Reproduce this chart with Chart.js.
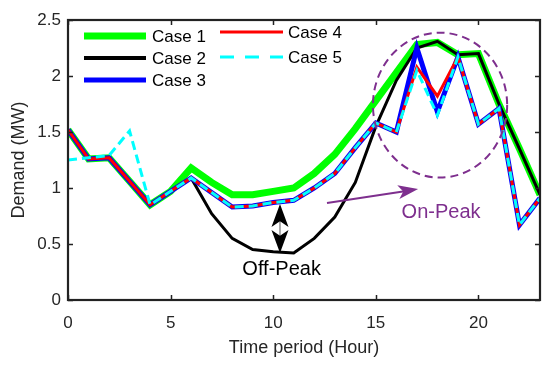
<!DOCTYPE html>
<html><head><meta charset="utf-8">
<script src="https://cdn.jsdelivr.net/npm/chart.js@4.4.1/dist/chart.umd.min.js"></script>
<style>html,body{margin:0;padding:0;background:#fff}</style>
</head><body>
<canvas id="c" width="550" height="365"></canvas>
<script>
// ---------- DATA ----------
const hours = [0,1,2,3,4,5,6,7,8,9,10,11,12,13,14,15,16,17,18,19,20,21,22,23];
const case1 = [1.52,1.26,1.27,1.06,0.85,0.97,1.18,1.05,0.94,0.94,0.97,1.00,1.13,1.30,1.53,1.78,2.03,2.28,2.30,2.19,2.20,1.75,1.35,0.94];
const case2 = [1.52,1.26,1.27,1.06,0.85,0.97,1.09,0.77,0.55,0.45,0.43,0.42,0.55,0.74,1.05,1.55,1.96,2.25,2.31,2.19,2.20,1.75,1.35,0.94];
const case3 = [1.52,1.26,1.27,1.06,0.85,0.97,1.09,0.96,0.83,0.84,0.87,0.89,1.00,1.13,1.36,1.58,1.50,2.25,1.68,2.17,1.57,1.71,0.67,0.91];
const case4 = [1.52,1.26,1.27,1.06,0.85,0.97,1.09,0.96,0.83,0.84,0.87,0.89,1.00,1.13,1.36,1.58,1.50,2.08,1.82,2.17,1.57,1.71,0.67,0.91];
const case5 = [1.25,1.27,1.29,1.51,0.85,0.97,1.09,0.96,0.83,0.84,0.87,0.89,1.00,1.13,1.36,1.58,1.50,2.05,1.65,2.17,1.57,1.71,0.67,0.91];
const seriesNames = ['Case 1','Case 2','Case 3','Case 4','Case 5'];
const xTicks = [0,5,10,15,20];
const yTicks = [0,0.5,1,1.5,2,2.5];
const xTitle = 'Time period (Hour)';
const yTitle = 'Demand (MW)';
// annotations (data units)
const peakEllipse = {cx:18.13, cy:1.74, rx:3.27, ry:0.647};
const onPeakArrow = {x1:12.62, y1:0.866, x2:17.06, y2:0.99};
const onPeakLabel = {text:'On-Peak', x:18.18, y:0.78};
const offPeakArrow = {x:10.33, y1:0.857, y2:0.42};
const offPeakLabel = {text:'Off-Peak', x:10.41, y:0.27};

// ---------- STYLE ----------
const FONT = '"Liberation Sans", Arial, Helvetica, sans-serif';
const PURPLE = '#7E2F8E';
const styles = [
  {color:'#00FF00', width:7, dash:[]},
  {color:'#000000', width:3, dash:[]},
  {color:'#0000FF', width:5, dash:[]},
  {color:'#FF0000', width:3, dash:[]},
  {color:'#00FFFF', width:3, dash:[9,5]}
];
const allSeries = [case1, case2, case3, case4, case5];
const datasets = allSeries.map((vals, i) => ({
  label: seriesNames[i],
  data: hours.map((h, k) => ({x: h, y: vals[k]})),
  borderColor: styles[i].color,
  borderWidth: styles[i].width,
  borderDash: styles[i].dash,
  pointRadius: 0,
  tension: 0,
  fill: false,
  order: 5 - i
}));

function arrowHead(ctx, x1, y1, x2, y2, len, wid, color) {
  const a = Math.atan2(y2 - y1, x2 - x1);
  ctx.save();
  ctx.translate(x2, y2); ctx.rotate(a);
  ctx.fillStyle = color;
  ctx.beginPath();
  ctx.moveTo(0, 0);
  ctx.lineTo(-len, -wid/2);
  ctx.lineTo(-len*0.75, 0);
  ctx.lineTo(-len, wid/2);
  ctx.closePath();
  ctx.fill();
  ctx.restore();
}

const annotations = {
  id: 'annotations',
  afterDatasetsDraw(chart) {
    const {ctx, scales:{x, y}} = chart;
    ctx.save();
    // ellipse
    const ex = x.getPixelForValue(peakEllipse.cx), ey = y.getPixelForValue(peakEllipse.cy);
    const erx = x.getPixelForValue(peakEllipse.cx + peakEllipse.rx) - ex;
    const ery = ey - y.getPixelForValue(peakEllipse.cy + peakEllipse.ry);
    ctx.strokeStyle = PURPLE; ctx.lineWidth = 2; ctx.setLineDash([8,5]);
    ctx.beginPath(); ctx.ellipse(ex, ey, erx, ery, 0, 0, Math.PI*2); ctx.stroke();
    ctx.setLineDash([]);
    // on-peak arrow
    const ax1 = x.getPixelForValue(onPeakArrow.x1), ay1 = y.getPixelForValue(onPeakArrow.y1);
    const ax2 = x.getPixelForValue(onPeakArrow.x2), ay2 = y.getPixelForValue(onPeakArrow.y2);
    ctx.strokeStyle = PURPLE; ctx.lineWidth = 2;
    ctx.beginPath(); ctx.moveTo(ax1, ay1);
    const ang = Math.atan2(ay2-ay1, ax2-ax1);
    ctx.lineTo(ax2 - 12*Math.cos(ang), ay2 - 12*Math.sin(ang)); ctx.stroke();
    arrowHead(ctx, ax1, ay1, ax2, ay2, 20, 14, PURPLE);
    ctx.font = '20px ' + FONT; ctx.fillStyle = PURPLE;
    ctx.textAlign = 'center'; ctx.textBaseline = 'middle';
    ctx.fillText(onPeakLabel.text, x.getPixelForValue(onPeakLabel.x), y.getPixelForValue(onPeakLabel.y));
    // off-peak double arrow
    const bx = x.getPixelForValue(offPeakArrow.x);
    const by1 = y.getPixelForValue(offPeakArrow.y1), by2 = y.getPixelForValue(offPeakArrow.y2);
    ctx.strokeStyle = '#555'; ctx.lineWidth = 1;
    ctx.beginPath(); ctx.moveTo(bx, by1 + 10); ctx.lineTo(bx, by2 - 10); ctx.stroke();
    arrowHead(ctx, bx, by2, bx, by1, 23, 17, '#000');
    arrowHead(ctx, bx, by1, bx, by2, 23, 17, '#000');
    ctx.fillStyle = '#000'; ctx.font = '20px ' + FONT;
    ctx.fillText(offPeakLabel.text, x.getPixelForValue(offPeakLabel.x), y.getPixelForValue(offPeakLabel.y));
    ctx.restore();
  }
};

const frame = {
  id: 'frame',
  afterDraw(chart) {
    const {ctx, chartArea:{left, right, top, bottom}, scales:{x, y}} = chart;
    ctx.save();
    ctx.strokeStyle = '#222'; ctx.lineWidth = 1.5;
    xTicks.forEach(v => {
      const px = Math.round(x.getPixelForValue(v)) + 0.5;
      ctx.beginPath(); ctx.moveTo(px, bottom); ctx.lineTo(px, bottom - 5);
      ctx.moveTo(px, top); ctx.lineTo(px, top + 5); ctx.stroke();
    });
    yTicks.forEach(v => {
      const py = Math.round(y.getPixelForValue(v)) + 0.5;
      ctx.beginPath(); ctx.moveTo(left, py); ctx.lineTo(left + 5, py);
      ctx.moveTo(right, py); ctx.lineTo(right - 5, py); ctx.stroke();
    });
    ctx.lineWidth = 2.2;
    ctx.strokeRect(left, top, right - left, bottom - top);
    // legend
    ctx.font = '17px ' + FONT; ctx.fillStyle = '#000';
    ctx.textAlign = 'left'; ctx.textBaseline = 'middle';
    const pos = [
      {x1:84, x2:146, y:36, tx:152},
      {x1:84, x2:146, y:58, tx:152},
      {x1:84, x2:146, y:80, tx:152},
      {x1:220, x2:283, y:32, tx:288},
      {x1:220, x2:283, y:57, tx:288}
    ];
    const legDash = [[],[],[],[],[14,11]];
    const legW = [7,4,5,3,3];
    pos.forEach((p, i) => {
      ctx.strokeStyle = styles[i].color; ctx.lineWidth = legW[i];
      ctx.setLineDash(legDash[i]);
      ctx.beginPath(); ctx.moveTo(p.x1, p.y); ctx.lineTo(p.x2, p.y); ctx.stroke();
      ctx.setLineDash([]);
      ctx.fillText(seriesNames[i], p.tx, p.y + 1);
    });
    ctx.restore();
  }
};

new Chart(document.getElementById('c'), {
  type: 'line',
  data: {datasets},
  options: {
    responsive: false, animation: false, devicePixelRatio: 1,
    layout: {padding: {left: 0, right: 10, top: 20, bottom: 0}},
    plugins: {legend: {display: false}, tooltip: {enabled: false}},
    scales: {
      x: {
        type: 'linear', min: 0, max: 23,
        afterBuildTicks: s => { s.ticks = xTicks.map(v => ({value: v})); },
        afterFit: s => { s.height = 65; },
        ticks: {font: {family: FONT, size: 17}, color: '#262626', padding: 13, maxRotation: 0, autoSkip: false},
        grid: {display: false, drawTicks: false},
        border: {display: false},
        title: {display: true, text: xTitle, font: {family: FONT, size: 18}, color: '#262626', padding: {top: 0, bottom: 6}}
      },
      y: {
        type: 'linear', min: 0, max: 2.5,
        afterBuildTicks: s => { s.ticks = yTicks.map(v => ({value: v})); },
        afterFit: s => { s.width = 68; },
        ticks: {font: {family: FONT, size: 17}, color: '#262626', padding: 7, callback: v => String(v)},
        grid: {display: false, drawTicks: false},
        border: {display: false},
        title: {display: true, text: yTitle, font: {family: FONT, size: 18}, color: '#262626', padding: {top: 8, bottom: 0}}
      }
    }
  },
  plugins: [annotations, frame]
});
</script>
</body></html>
